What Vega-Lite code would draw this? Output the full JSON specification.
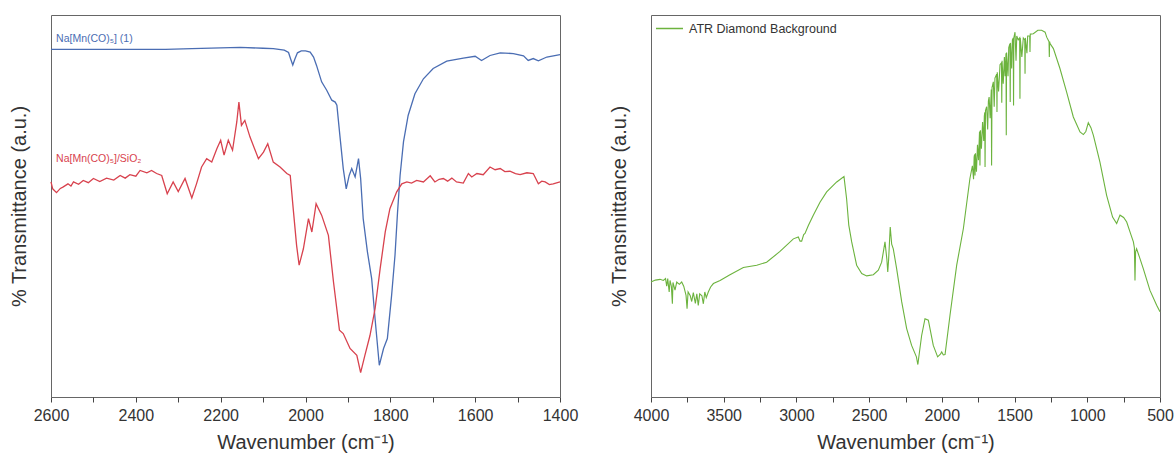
{
  "$schema": "https://vega.github.io/schema/vega-lite/v6.json",
  "background": "white",
  "padding": {"left": 8, "top": 13, "right": 5, "bottom": 5},
  "config": {
    "font": "Liberation Sans",
    "view": {"stroke": "#666", "strokeWidth": 1},
    "axis": {"labelFont": "Liberation Sans", "titleFont": "Liberation Sans", "labelColor": "#333", "titleColor": "#333", "titleFontWeight": "normal", "grid": false, "domain": false, "tickColor": "#444", "labelFlush": false},
    "concat": {"spacing": 29}
  },
  "resolve": {"scale": {"color": "independent"}, "legend": {"color": "independent"}},
  "datasets": {
    "mnco": [
      {"wn": 2600, "t": 91.0, "sample": "blue"}, {"wn": 2500, "t": 91.0, "sample": "blue"}, {"wn": 2400, "t": 91.0, "sample": "blue"}, {"wn": 2330, "t": 91.0, "sample": "blue"}, {"wn": 2268, "t": 91.2, "sample": "blue"}, {"wn": 2200, "t": 91.4, "sample": "blue"}, {"wn": 2154, "t": 91.5, "sample": "blue"}, {"wn": 2100, "t": 91.3, "sample": "blue"}, {"wn": 2076, "t": 91.2, "sample": "blue"}, {"wn": 2050, "t": 90.8, "sample": "blue"}, {"wn": 2040, "t": 90.2, "sample": "blue"}, {"wn": 2035, "t": 88.5, "sample": "blue"}, {"wn": 2030, "t": 86.9, "sample": "blue"}, {"wn": 2025, "t": 88.5, "sample": "blue"}, {"wn": 2019, "t": 90.1, "sample": "blue"}, {"wn": 2010, "t": 90.6, "sample": "blue"}, {"wn": 2000, "t": 90.6, "sample": "blue"}, {"wn": 1989, "t": 90.3, "sample": "blue"}, {"wn": 1981, "t": 89.0, "sample": "blue"}, {"wn": 1974, "t": 86.8, "sample": "blue"}, {"wn": 1962, "t": 82.5, "sample": "blue"}, {"wn": 1950, "t": 80.3, "sample": "blue"}, {"wn": 1938, "t": 77.7, "sample": "blue"}, {"wn": 1930, "t": 77.2, "sample": "blue"}, {"wn": 1926, "t": 76.4, "sample": "blue"}, {"wn": 1919, "t": 68.5, "sample": "blue"}, {"wn": 1911, "t": 59.8, "sample": "blue"}, {"wn": 1904, "t": 54.5, "sample": "blue"}, {"wn": 1897, "t": 58.0, "sample": "blue"}, {"wn": 1891, "t": 59.8, "sample": "blue"}, {"wn": 1883, "t": 57.6, "sample": "blue"}, {"wn": 1875, "t": 62.4, "sample": "blue"}, {"wn": 1870, "t": 57.2, "sample": "blue"}, {"wn": 1864, "t": 46.7, "sample": "blue"}, {"wn": 1854, "t": 38.0, "sample": "blue"}, {"wn": 1844, "t": 31.0, "sample": "blue"}, {"wn": 1836, "t": 20.5, "sample": "blue"}, {"wn": 1826, "t": 8.3, "sample": "blue"}, {"wn": 1816, "t": 12.7, "sample": "blue"}, {"wn": 1807, "t": 15.3, "sample": "blue"}, {"wn": 1797, "t": 26.6, "sample": "blue"}, {"wn": 1789, "t": 37.1, "sample": "blue"}, {"wn": 1783, "t": 48.4, "sample": "blue"}, {"wn": 1777, "t": 58.0, "sample": "blue"}, {"wn": 1769, "t": 66.8, "sample": "blue"}, {"wn": 1758, "t": 73.7, "sample": "blue"}, {"wn": 1742, "t": 79.4, "sample": "blue"}, {"wn": 1722, "t": 83.3, "sample": "blue"}, {"wn": 1699, "t": 86.0, "sample": "blue"}, {"wn": 1667, "t": 87.9, "sample": "blue"}, {"wn": 1628, "t": 88.7, "sample": "blue"}, {"wn": 1600, "t": 89.2, "sample": "blue"}, {"wn": 1585, "t": 88.1, "sample": "blue"}, {"wn": 1565, "t": 89.4, "sample": "blue"}, {"wn": 1541, "t": 90.1, "sample": "blue"}, {"wn": 1510, "t": 89.9, "sample": "blue"}, {"wn": 1486, "t": 89.3, "sample": "blue"}, {"wn": 1475, "t": 88.1, "sample": "blue"}, {"wn": 1463, "t": 88.6, "sample": "blue"}, {"wn": 1451, "t": 88.0, "sample": "blue"}, {"wn": 1431, "t": 89.0, "sample": "blue"}, {"wn": 1400, "t": 89.6, "sample": "blue"},
      {"wn": 2600, "t": 56.3, "sample": "red"}, {"wn": 2596, "t": 54.5, "sample": "red"}, {"wn": 2587, "t": 53.5, "sample": "red"}, {"wn": 2578, "t": 54.6, "sample": "red"}, {"wn": 2571, "t": 55.0, "sample": "red"}, {"wn": 2560, "t": 55.8, "sample": "red"}, {"wn": 2553, "t": 55.2, "sample": "red"}, {"wn": 2547, "t": 56.3, "sample": "red"}, {"wn": 2535, "t": 55.7, "sample": "red"}, {"wn": 2524, "t": 56.7, "sample": "red"}, {"wn": 2512, "t": 56.1, "sample": "red"}, {"wn": 2500, "t": 57.2, "sample": "red"}, {"wn": 2485, "t": 56.4, "sample": "red"}, {"wn": 2469, "t": 57.3, "sample": "red"}, {"wn": 2452, "t": 56.8, "sample": "red"}, {"wn": 2437, "t": 58.0, "sample": "red"}, {"wn": 2425, "t": 57.3, "sample": "red"}, {"wn": 2414, "t": 58.2, "sample": "red"}, {"wn": 2400, "t": 57.8, "sample": "red"}, {"wn": 2390, "t": 59.3, "sample": "red"}, {"wn": 2374, "t": 58.7, "sample": "red"}, {"wn": 2363, "t": 59.3, "sample": "red"}, {"wn": 2351, "t": 58.5, "sample": "red"}, {"wn": 2339, "t": 58.0, "sample": "red"}, {"wn": 2326, "t": 53.2, "sample": "red"}, {"wn": 2312, "t": 56.3, "sample": "red"}, {"wn": 2300, "t": 53.8, "sample": "red"}, {"wn": 2284, "t": 57.2, "sample": "red"}, {"wn": 2268, "t": 52.1, "sample": "red"}, {"wn": 2257, "t": 55.8, "sample": "red"}, {"wn": 2245, "t": 60.2, "sample": "red"}, {"wn": 2233, "t": 62.4, "sample": "red"}, {"wn": 2221, "t": 61.5, "sample": "red"}, {"wn": 2209, "t": 65.0, "sample": "red"}, {"wn": 2200, "t": 67.2, "sample": "red"}, {"wn": 2192, "t": 63.3, "sample": "red"}, {"wn": 2182, "t": 67.2, "sample": "red"}, {"wn": 2172, "t": 64.6, "sample": "red"}, {"wn": 2162, "t": 72.0, "sample": "red"}, {"wn": 2157, "t": 77.2, "sample": "red"}, {"wn": 2151, "t": 71.1, "sample": "red"}, {"wn": 2143, "t": 72.4, "sample": "red"}, {"wn": 2131, "t": 68.1, "sample": "red"}, {"wn": 2111, "t": 62.4, "sample": "red"}, {"wn": 2099, "t": 64.1, "sample": "red"}, {"wn": 2089, "t": 66.3, "sample": "red"}, {"wn": 2076, "t": 61.5, "sample": "red"}, {"wn": 2060, "t": 60.2, "sample": "red"}, {"wn": 2044, "t": 58.5, "sample": "red"}, {"wn": 2036, "t": 58.0, "sample": "red"}, {"wn": 2029, "t": 49.3, "sample": "red"}, {"wn": 2021, "t": 39.7, "sample": "red"}, {"wn": 2015, "t": 34.5, "sample": "red"}, {"wn": 2005, "t": 38.8, "sample": "red"}, {"wn": 1993, "t": 46.7, "sample": "red"}, {"wn": 1985, "t": 43.2, "sample": "red"}, {"wn": 1975, "t": 50.6, "sample": "red"}, {"wn": 1962, "t": 47.6, "sample": "red"}, {"wn": 1946, "t": 42.3, "sample": "red"}, {"wn": 1934, "t": 30.1, "sample": "red"}, {"wn": 1920, "t": 17.5, "sample": "red"}, {"wn": 1911, "t": 16.6, "sample": "red"}, {"wn": 1895, "t": 12.7, "sample": "red"}, {"wn": 1879, "t": 10.9, "sample": "red"}, {"wn": 1870, "t": 6.4, "sample": "red"}, {"wn": 1860, "t": 10.9, "sample": "red"}, {"wn": 1848, "t": 16.1, "sample": "red"}, {"wn": 1836, "t": 23.1, "sample": "red"}, {"wn": 1824, "t": 33.6, "sample": "red"}, {"wn": 1812, "t": 43.2, "sample": "red"}, {"wn": 1801, "t": 49.3, "sample": "red"}, {"wn": 1785, "t": 53.7, "sample": "red"}, {"wn": 1773, "t": 55.8, "sample": "red"}, {"wn": 1761, "t": 56.3, "sample": "red"}, {"wn": 1750, "t": 56.0, "sample": "red"}, {"wn": 1738, "t": 56.7, "sample": "red"}, {"wn": 1722, "t": 56.3, "sample": "red"}, {"wn": 1706, "t": 57.9, "sample": "red"}, {"wn": 1695, "t": 56.3, "sample": "red"}, {"wn": 1685, "t": 57.0, "sample": "red"}, {"wn": 1675, "t": 57.2, "sample": "red"}, {"wn": 1665, "t": 56.5, "sample": "red"}, {"wn": 1655, "t": 57.3, "sample": "red"}, {"wn": 1644, "t": 56.3, "sample": "red"}, {"wn": 1628, "t": 56.0, "sample": "red"}, {"wn": 1616, "t": 58.5, "sample": "red"}, {"wn": 1608, "t": 57.6, "sample": "red"}, {"wn": 1596, "t": 58.5, "sample": "red"}, {"wn": 1581, "t": 58.2, "sample": "red"}, {"wn": 1565, "t": 60.2, "sample": "red"}, {"wn": 1553, "t": 59.5, "sample": "red"}, {"wn": 1541, "t": 59.8, "sample": "red"}, {"wn": 1530, "t": 59.0, "sample": "red"}, {"wn": 1518, "t": 59.1, "sample": "red"}, {"wn": 1505, "t": 58.5, "sample": "red"}, {"wn": 1494, "t": 58.2, "sample": "red"}, {"wn": 1478, "t": 58.7, "sample": "red"}, {"wn": 1463, "t": 58.5, "sample": "red"}, {"wn": 1451, "t": 55.8, "sample": "red"}, {"wn": 1443, "t": 56.5, "sample": "red"}, {"wn": 1435, "t": 56.3, "sample": "red"}, {"wn": 1425, "t": 55.6, "sample": "red"}, {"wn": 1416, "t": 55.8, "sample": "red"}, {"wn": 1400, "t": 56.3, "sample": "red"}
    ],
    "atr": [
      {"wn": 4000, "t": 30.1, "sample": "ATR Diamond Background"}, {"wn": 3970, "t": 30.6, "sample": "ATR Diamond Background"}, {"wn": 3938, "t": 30.8, "sample": "ATR Diamond Background"}, {"wn": 3915, "t": 30.5, "sample": "ATR Diamond Background"}, {"wn": 3900, "t": 31.0, "sample": "ATR Diamond Background"}, {"wn": 3892, "t": 29.0, "sample": "ATR Diamond Background"}, {"wn": 3885, "t": 31.0, "sample": "ATR Diamond Background"}, {"wn": 3875, "t": 27.5, "sample": "ATR Diamond Background"}, {"wn": 3869, "t": 30.5, "sample": "ATR Diamond Background"}, {"wn": 3860, "t": 29.0, "sample": "ATR Diamond Background"}, {"wn": 3853, "t": 24.4, "sample": "ATR Diamond Background"}, {"wn": 3849, "t": 30.0, "sample": "ATR Diamond Background"}, {"wn": 3835, "t": 28.0, "sample": "ATR Diamond Background"}, {"wn": 3823, "t": 30.1, "sample": "ATR Diamond Background"}, {"wn": 3805, "t": 29.5, "sample": "ATR Diamond Background"}, {"wn": 3789, "t": 30.1, "sample": "ATR Diamond Background"}, {"wn": 3775, "t": 29.0, "sample": "ATR Diamond Background"}, {"wn": 3765, "t": 27.5, "sample": "ATR Diamond Background"}, {"wn": 3759, "t": 26.6, "sample": "ATR Diamond Background"}, {"wn": 3752, "t": 23.1, "sample": "ATR Diamond Background"}, {"wn": 3745, "t": 27.5, "sample": "ATR Diamond Background"}, {"wn": 3730, "t": 26.5, "sample": "ATR Diamond Background"}, {"wn": 3720, "t": 25.0, "sample": "ATR Diamond Background"}, {"wn": 3709, "t": 27.3, "sample": "ATR Diamond Background"}, {"wn": 3695, "t": 24.5, "sample": "ATR Diamond Background"}, {"wn": 3685, "t": 27.0, "sample": "ATR Diamond Background"}, {"wn": 3675, "t": 24.0, "sample": "ATR Diamond Background"}, {"wn": 3665, "t": 27.0, "sample": "ATR Diamond Background"}, {"wn": 3650, "t": 26.5, "sample": "ATR Diamond Background"}, {"wn": 3640, "t": 24.4, "sample": "ATR Diamond Background"}, {"wn": 3630, "t": 27.5, "sample": "ATR Diamond Background"}, {"wn": 3620, "t": 26.0, "sample": "ATR Diamond Background"}, {"wn": 3606, "t": 27.5, "sample": "ATR Diamond Background"}, {"wn": 3590, "t": 28.8, "sample": "ATR Diamond Background"}, {"wn": 3571, "t": 29.7, "sample": "ATR Diamond Background"}, {"wn": 3525, "t": 30.5, "sample": "ATR Diamond Background"}, {"wn": 3457, "t": 32.0, "sample": "ATR Diamond Background"}, {"wn": 3365, "t": 33.9, "sample": "ATR Diamond Background"}, {"wn": 3273, "t": 34.5, "sample": "ATR Diamond Background"}, {"wn": 3205, "t": 35.3, "sample": "ATR Diamond Background"}, {"wn": 3113, "t": 38.1, "sample": "ATR Diamond Background"}, {"wn": 3021, "t": 41.4, "sample": "ATR Diamond Background"}, {"wn": 2987, "t": 41.9, "sample": "ATR Diamond Background"}, {"wn": 2975, "t": 40.8, "sample": "ATR Diamond Background"}, {"wn": 2964, "t": 40.8, "sample": "ATR Diamond Background"}, {"wn": 2950, "t": 42.5, "sample": "ATR Diamond Background"}, {"wn": 2941, "t": 42.8, "sample": "ATR Diamond Background"}, {"wn": 2918, "t": 44.9, "sample": "ATR Diamond Background"}, {"wn": 2884, "t": 47.6, "sample": "ATR Diamond Background"}, {"wn": 2838, "t": 51.0, "sample": "ATR Diamond Background"}, {"wn": 2792, "t": 53.7, "sample": "ATR Diamond Background"}, {"wn": 2723, "t": 56.3, "sample": "ATR Diamond Background"}, {"wn": 2673, "t": 57.7, "sample": "ATR Diamond Background"}, {"wn": 2655, "t": 51.9, "sample": "ATR Diamond Background"}, {"wn": 2640, "t": 45.0, "sample": "ATR Diamond Background"}, {"wn": 2620, "t": 40.6, "sample": "ATR Diamond Background"}, {"wn": 2586, "t": 34.5, "sample": "ATR Diamond Background"}, {"wn": 2551, "t": 32.3, "sample": "ATR Diamond Background"}, {"wn": 2517, "t": 31.7, "sample": "ATR Diamond Background"}, {"wn": 2471, "t": 32.0, "sample": "ATR Diamond Background"}, {"wn": 2437, "t": 33.2, "sample": "ATR Diamond Background"}, {"wn": 2414, "t": 35.3, "sample": "ATR Diamond Background"}, {"wn": 2391, "t": 40.6, "sample": "ATR Diamond Background"}, {"wn": 2378, "t": 36.0, "sample": "ATR Diamond Background"}, {"wn": 2372, "t": 32.7, "sample": "ATR Diamond Background"}, {"wn": 2366, "t": 36.0, "sample": "ATR Diamond Background"}, {"wn": 2355, "t": 44.5, "sample": "ATR Diamond Background"}, {"wn": 2345, "t": 40.0, "sample": "ATR Diamond Background"}, {"wn": 2334, "t": 38.8, "sample": "ATR Diamond Background"}, {"wn": 2311, "t": 33.6, "sample": "ATR Diamond Background"}, {"wn": 2276, "t": 24.9, "sample": "ATR Diamond Background"}, {"wn": 2242, "t": 17.9, "sample": "ATR Diamond Background"}, {"wn": 2208, "t": 13.5, "sample": "ATR Diamond Background"}, {"wn": 2175, "t": 10.5, "sample": "ATR Diamond Background"}, {"wn": 2165, "t": 8.5, "sample": "ATR Diamond Background"}, {"wn": 2160, "t": 10.0, "sample": "ATR Diamond Background"}, {"wn": 2139, "t": 16.1, "sample": "ATR Diamond Background"}, {"wn": 2116, "t": 20.5, "sample": "ATR Diamond Background"}, {"wn": 2093, "t": 20.1, "sample": "ATR Diamond Background"}, {"wn": 2059, "t": 13.5, "sample": "ATR Diamond Background"}, {"wn": 2029, "t": 10.5, "sample": "ATR Diamond Background"}, {"wn": 2010, "t": 11.2, "sample": "ATR Diamond Background"}, {"wn": 2001, "t": 11.8, "sample": "ATR Diamond Background"}, {"wn": 1990, "t": 11.0, "sample": "ATR Diamond Background"}, {"wn": 1978, "t": 11.1, "sample": "ATR Diamond Background"}, {"wn": 1944, "t": 21.4, "sample": "ATR Diamond Background"}, {"wn": 1898, "t": 34.5, "sample": "ATR Diamond Background"}, {"wn": 1852, "t": 44.1, "sample": "ATR Diamond Background"}, {"wn": 1807, "t": 57.2, "sample": "ATR Diamond Background"},
      {"wn": 1790, "t": 60.5, "sample": "ATR Diamond Background"}, {"wn": 1782, "t": 57.0, "sample": "ATR Diamond Background"}, {"wn": 1778, "t": 62.8, "sample": "ATR Diamond Background"}, {"wn": 1775, "t": 63.5, "sample": "ATR Diamond Background"}, {"wn": 1772, "t": 58.0, "sample": "ATR Diamond Background"}, {"wn": 1769, "t": 63.8, "sample": "ATR Diamond Background"}, {"wn": 1762, "t": 59.0, "sample": "ATR Diamond Background"}, {"wn": 1755, "t": 66.0, "sample": "ATR Diamond Background"}, {"wn": 1748, "t": 62.0, "sample": "ATR Diamond Background"}, {"wn": 1741, "t": 69.5, "sample": "ATR Diamond Background"}, {"wn": 1738, "t": 60.6, "sample": "ATR Diamond Background"}, {"wn": 1735, "t": 69.8, "sample": "ATR Diamond Background"}, {"wn": 1728, "t": 65.0, "sample": "ATR Diamond Background"}, {"wn": 1720, "t": 72.0, "sample": "ATR Diamond Background"}, {"wn": 1712, "t": 67.0, "sample": "ATR Diamond Background"}, {"wn": 1708, "t": 73.5, "sample": "ATR Diamond Background"}, {"wn": 1705, "t": 74.5, "sample": "ATR Diamond Background"}, {"wn": 1703, "t": 60.2, "sample": "ATR Diamond Background"}, {"wn": 1700, "t": 75.0, "sample": "ATR Diamond Background"}, {"wn": 1692, "t": 76.0, "sample": "ATR Diamond Background"}, {"wn": 1685, "t": 70.0, "sample": "ATR Diamond Background"}, {"wn": 1680, "t": 77.5, "sample": "ATR Diamond Background"}, {"wn": 1675, "t": 78.5, "sample": "ATR Diamond Background"}, {"wn": 1668, "t": 73.0, "sample": "ATR Diamond Background"}, {"wn": 1660, "t": 80.5, "sample": "ATR Diamond Background"}, {"wn": 1658, "t": 60.6, "sample": "ATR Diamond Background"}, {"wn": 1655, "t": 81.0, "sample": "ATR Diamond Background"}, {"wn": 1646, "t": 82.5, "sample": "ATR Diamond Background"}, {"wn": 1640, "t": 76.0, "sample": "ATR Diamond Background"}, {"wn": 1635, "t": 83.5, "sample": "ATR Diamond Background"}, {"wn": 1623, "t": 84.5, "sample": "ATR Diamond Background"}, {"wn": 1621, "t": 74.6, "sample": "ATR Diamond Background"}, {"wn": 1619, "t": 85.0, "sample": "ATR Diamond Background"}, {"wn": 1610, "t": 80.0, "sample": "ATR Diamond Background"}, {"wn": 1600, "t": 87.0, "sample": "ATR Diamond Background"}, {"wn": 1590, "t": 87.5, "sample": "ATR Diamond Background"}, {"wn": 1588, "t": 77.0, "sample": "ATR Diamond Background"}, {"wn": 1586, "t": 88.0, "sample": "ATR Diamond Background"}, {"wn": 1578, "t": 82.0, "sample": "ATR Diamond Background"}, {"wn": 1570, "t": 89.0, "sample": "ATR Diamond Background"}, {"wn": 1565, "t": 84.0, "sample": "ATR Diamond Background"}, {"wn": 1559, "t": 90.0, "sample": "ATR Diamond Background"}, {"wn": 1557, "t": 68.5, "sample": "ATR Diamond Background"}, {"wn": 1555, "t": 90.2, "sample": "ATR Diamond Background"}, {"wn": 1545, "t": 84.0, "sample": "ATR Diamond Background"}, {"wn": 1540, "t": 91.5, "sample": "ATR Diamond Background"}, {"wn": 1532, "t": 92.5, "sample": "ATR Diamond Background"}, {"wn": 1530, "t": 77.2, "sample": "ATR Diamond Background"}, {"wn": 1528, "t": 92.7, "sample": "ATR Diamond Background"}, {"wn": 1520, "t": 86.0, "sample": "ATR Diamond Background"}, {"wn": 1515, "t": 93.5, "sample": "ATR Diamond Background"}, {"wn": 1509, "t": 94.0, "sample": "ATR Diamond Background"}, {"wn": 1507, "t": 76.3, "sample": "ATR Diamond Background"}, {"wn": 1505, "t": 94.0, "sample": "ATR Diamond Background"}, {"wn": 1497, "t": 95.5, "sample": "ATR Diamond Background"}, {"wn": 1490, "t": 88.0, "sample": "ATR Diamond Background"}, {"wn": 1485, "t": 94.5, "sample": "ATR Diamond Background"}, {"wn": 1475, "t": 93.5, "sample": "ATR Diamond Background"}, {"wn": 1465, "t": 94.0, "sample": "ATR Diamond Background"}, {"wn": 1463, "t": 78.1, "sample": "ATR Diamond Background"}, {"wn": 1461, "t": 94.0, "sample": "ATR Diamond Background"}, {"wn": 1450, "t": 89.0, "sample": "ATR Diamond Background"}, {"wn": 1440, "t": 94.0, "sample": "ATR Diamond Background"}, {"wn": 1430, "t": 93.5, "sample": "ATR Diamond Background"}, {"wn": 1428, "t": 84.6, "sample": "ATR Diamond Background"}, {"wn": 1426, "t": 94.0, "sample": "ATR Diamond Background"}, {"wn": 1415, "t": 90.0, "sample": "ATR Diamond Background"}, {"wn": 1410, "t": 94.5, "sample": "ATR Diamond Background"}, {"wn": 1396, "t": 94.5, "sample": "ATR Diamond Background"}, {"wn": 1394, "t": 90.3, "sample": "ATR Diamond Background"}, {"wn": 1392, "t": 95.0, "sample": "ATR Diamond Background"}, {"wn": 1371, "t": 95.1, "sample": "ATR Diamond Background"}, {"wn": 1340, "t": 96.0, "sample": "ATR Diamond Background"}, {"wn": 1314, "t": 96.0, "sample": "ATR Diamond Background"}, {"wn": 1290, "t": 95.5, "sample": "ATR Diamond Background"}, {"wn": 1279, "t": 94.2, "sample": "ATR Diamond Background"}, {"wn": 1263, "t": 93.0, "sample": "ATR Diamond Background"}, {"wn": 1261, "t": 89.0, "sample": "ATR Diamond Background"}, {"wn": 1259, "t": 93.0, "sample": "ATR Diamond Background"}, {"wn": 1256, "t": 92.5, "sample": "ATR Diamond Background"}, {"wn": 1233, "t": 91.2, "sample": "ATR Diamond Background"}, {"wn": 1188, "t": 86.0, "sample": "ATR Diamond Background"}, {"wn": 1142, "t": 79.8, "sample": "ATR Diamond Background"}, {"wn": 1096, "t": 73.3, "sample": "ATR Diamond Background"}, {"wn": 1050, "t": 69.4, "sample": "ATR Diamond Background"}, {"wn": 1027, "t": 68.7, "sample": "ATR Diamond Background"}, {"wn": 1010, "t": 69.5, "sample": "ATR Diamond Background"}, {"wn": 993, "t": 71.8, "sample": "ATR Diamond Background"}, {"wn": 975, "t": 70.5, "sample": "ATR Diamond Background"}, {"wn": 958, "t": 68.5, "sample": "ATR Diamond Background"}, {"wn": 913, "t": 61.5, "sample": "ATR Diamond Background"}, {"wn": 867, "t": 52.8, "sample": "ATR Diamond Background"}, {"wn": 826, "t": 47.1, "sample": "ATR Diamond Background"}, {"wn": 798, "t": 45.4, "sample": "ATR Diamond Background"}, {"wn": 775, "t": 47.6, "sample": "ATR Diamond Background"}, {"wn": 750, "t": 47.0, "sample": "ATR Diamond Background"}, {"wn": 729, "t": 45.8, "sample": "ATR Diamond Background"}, {"wn": 700, "t": 42.5, "sample": "ATR Diamond Background"}, {"wn": 683, "t": 40.6, "sample": "ATR Diamond Background"}, {"wn": 676, "t": 39.0, "sample": "ATR Diamond Background"}, {"wn": 672, "t": 30.5, "sample": "ATR Diamond Background"}, {"wn": 668, "t": 38.0, "sample": "ATR Diamond Background"}, {"wn": 661, "t": 38.8, "sample": "ATR Diamond Background"}, {"wn": 640, "t": 36.5, "sample": "ATR Diamond Background"}, {"wn": 615, "t": 33.6, "sample": "ATR Diamond Background"}, {"wn": 569, "t": 27.9, "sample": "ATR Diamond Background"}, {"wn": 523, "t": 24.0, "sample": "ATR Diamond Background"}, {"wn": 500, "t": 22.3, "sample": "ATR Diamond Background"}
    ]
  },
  "hconcat": [
    {
      "width": 509,
      "height": 382,
      "layer": [
        {
          "data": {"name": "mnco"},
          "mark": {"type": "line", "strokeWidth": 1.3},
          "encoding": {
            "x": {"field": "wn", "type": "quantitative",
              "scale": {"domain": [1400, 2600], "reverse": true, "nice": false, "zero": false},
              "axis": {"values": [1400, 1500, 1600, 1700, 1800, 1900, 2000, 2100, 2200, 2300, 2400, 2500, 2600], "labelExpr": "datum.value % 200 === 0 ? datum.label : ''", "format": "d", "tickSize": 5, "labelFontSize": 16, "labelPadding": 5, "labelOverlap": false, "title": "Wavenumber (cm⁻¹)", "titleFontSize": 20, "titlePadding": 9}},
            "y": {"field": "t", "type": "quantitative",
              "scale": {"domain": [0, 100], "nice": false},
              "axis": {"title": "% Transmittance (a.u.)", "labels": false, "ticks": false, "titleFontSize": 20, "titlePadding": 22}},
            "color": {"field": "sample", "type": "nominal", "scale": {"domain": ["blue", "red"], "range": ["#4a6db3", "#d8424e"]}, "legend": null}
          }
        },
        {
          "data": {"values": [{"label": "Na[Mn(CO)₅] (1)"}]},
          "mark": {"type": "text", "align": "left", "baseline": "middle", "fontSize": 10.5, "color": "#4a6db3"},
          "encoding": {"x": {"datum": 2588}, "y": {"datum": 93.8}, "text": {"field": "label"}}
        },
        {
          "data": {"values": [{"label": "Na[Mn(CO)₅]/SiO₂"}]},
          "mark": {"type": "text", "align": "left", "baseline": "middle", "fontSize": 10.5, "color": "#d8424e"},
          "encoding": {"x": {"datum": 2588}, "y": {"datum": 62.3}, "text": {"field": "label"}}
        }
      ]
    },
    {
      "width": 509,
      "height": 382,
      "layer": [
        {
          "data": {"name": "atr"},
          "mark": {"type": "line", "strokeWidth": 1.1},
          "encoding": {
            "x": {"field": "wn", "type": "quantitative",
              "scale": {"domain": [500, 4000], "reverse": true, "nice": false, "zero": false},
              "axis": {"values": [500, 750, 1000, 1250, 1500, 1750, 2000, 2250, 2500, 2750, 3000, 3250, 3500, 3750, 4000], "labelExpr": "datum.value % 500 === 0 ? datum.label : ''", "format": "d", "tickSize": 5, "labelFontSize": 16, "labelPadding": 5, "labelOverlap": false, "title": "Wavenumber (cm⁻¹)", "titleFontSize": 20, "titlePadding": 9}},
            "y": {"field": "t", "type": "quantitative",
              "scale": {"domain": [0, 100], "nice": false},
              "axis": {"title": "% Transmittance (a.u.)", "labels": false, "ticks": false, "titleFontSize": 20, "titlePadding": 22}},
            "color": {"field": "sample", "type": "nominal", "scale": {"domain": ["ATR Diamond Background"], "range": ["#6cb33e"]},
              "legend": {"orient": "top-left", "title": null, "symbolType": "stroke", "symbolSize": 729, "symbolStrokeWidth": 1.5, "symbolOffset": 5, "labelFontSize": 12.5, "labelColor": "#333", "labelOffset": 5, "offset": -1, "padding": 0}}
          }
        }
      ]
    }
  ]
}
